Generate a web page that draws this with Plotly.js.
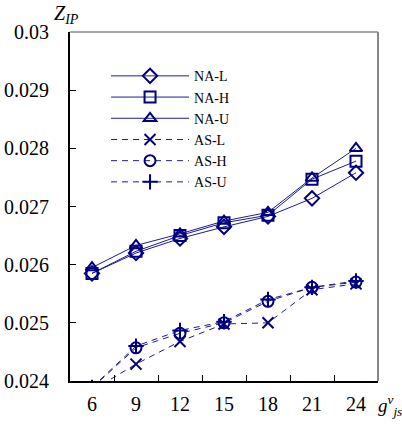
<!DOCTYPE html>
<html>
<head>
<meta charset="utf-8">
<script src="https://cdn.plot.ly/plotly-3.0.1.min.js"></script>
<style>html,body{margin:0;padding:0;background:#fff;}#chart{width:402px;height:425px;}</style>
</head>
<body>
<div id="chart"></div>
<script>
const categories = ['6', '9', '12', '15', '18', '21', '24'];
const naL = [0.02585, 0.02620, 0.02645, 0.02665, 0.02683, 0.02714, 0.02758];
const naH = [0.02585, 0.02623, 0.02650, 0.02672, 0.02685, 0.02747, 0.02778];
const naU = [0.02595, 0.02633, 0.02653, 0.02675, 0.02690, 0.02749, 0.02800];
const asL = [0.02384, 0.02429, 0.02468, 0.02498, 0.02500, 0.02557, 0.02567];
const asH = [0.02388, 0.02457, 0.02482, 0.02500, 0.02537, 0.02561, 0.02570];
const asU = [0.02389, 0.02460, 0.02487, 0.02502, 0.02540, 0.02561, 0.02572];
const names = ['NA-L', 'NA-H', 'NA-U', 'AS-L', 'AS-H', 'AS-U'];

const markerColor = '#000080';
const lineColor = '#1c1c96';
const font = 'Liberation Serif';

function tr(name, y, symbol, dashed) {
  return {
    type: 'scatter', mode: 'lines+markers', name: name,
    x: categories, y: y,
    line: {color: lineColor, width: 1, dash: dashed ? '6px,5px' : 'solid'},
    marker: {symbol: symbol, size: 11, color: markerColor, line: {color: markerColor, width: 2}}
  };
}

const data = [
  tr(names[0], naL, 'diamond-open', false),
  tr(names[1], naH, 'square-open', false),
  tr(names[2], naU, 'triangle-up-open', false),
  tr(names[3], asL, 'x-thin-open', true),
  tr(names[4], asH, 'circle-open', true),
  tr(names[5], asU, 'cross-thin-open', true)
];

const layout = {
  width: 402, height: 425,
  margin: {l: 70, r: 24, t: 32, b: 44},
  paper_bgcolor: '#fff', plot_bgcolor: '#fff',
  font: {family: font, size: 17, color: '#000'},
  showlegend: true,
  legend: {
    x: 0.117, y: 0.919, xanchor: 'left', yanchor: 'top',
    bgcolor: 'rgba(0,0,0,0)', borderwidth: 0,
    font: {family: font, size: 14, color: '#000'},
    itemwidth: 78, tracegroupgap: 0
  },
  xaxis: {
    type: 'category', range: [-0.5, 6.5],
    showgrid: false, zeroline: false,
    showline: true, linecolor: '#000', linewidth: 2,
    ticks: 'inside', ticklen: 6, tickwidth: 1, tickcolor: '#000',
    tickson: 'boundaries',
    tickfont: {family: font, size: 20, color: '#000'},
    ticklabelstandoff: 4,
    fixedrange: true
  },
  yaxis: {
    range: [0.024, 0.03], dtick: 0.001, tick0: 0.024,
    showgrid: false, zeroline: false,
    showline: true, linecolor: '#000', linewidth: 2,
    ticks: 'inside', ticklen: 6, tickwidth: 1, tickcolor: '#000',
    tickfont: {family: font, size: 20, color: '#000'},
    ticklabelstandoff: 15,
    fixedrange: true
  },
  shapes: [
    {type: 'line', xref: 'paper', yref: 'paper', x0: 0, x1: 1, y0: 1, y1: 1, line: {color: '#888', width: 1.5}},
    {type: 'line', xref: 'paper', yref: 'paper', x0: 1, x1: 1, y0: 0, y1: 1, line: {color: '#888', width: 2}}
  ],
  annotations: [
    {xref: 'paper', yref: 'paper', x: -0.06, y: 1.01, xanchor: 'left', yanchor: 'bottom', showarrow: false,
     text: '<i>Z</i><sub><i>IP</i></sub>', font: {family: font, size: 20, color: '#000'}},
    {xref: 'paper', yref: 'paper', x: 0.995, y: -0.025, xanchor: 'left', yanchor: 'top', showarrow: false,
     text: '<i>g</i><sup><i>v</i></sup><sub><i>js</i></sub>', font: {family: font, size: 19, color: '#000'}}
  ]
};

Plotly.newPlot('chart', data, layout, {displayModeBar: false, staticPlot: true});
</script>
</body>
</html>
